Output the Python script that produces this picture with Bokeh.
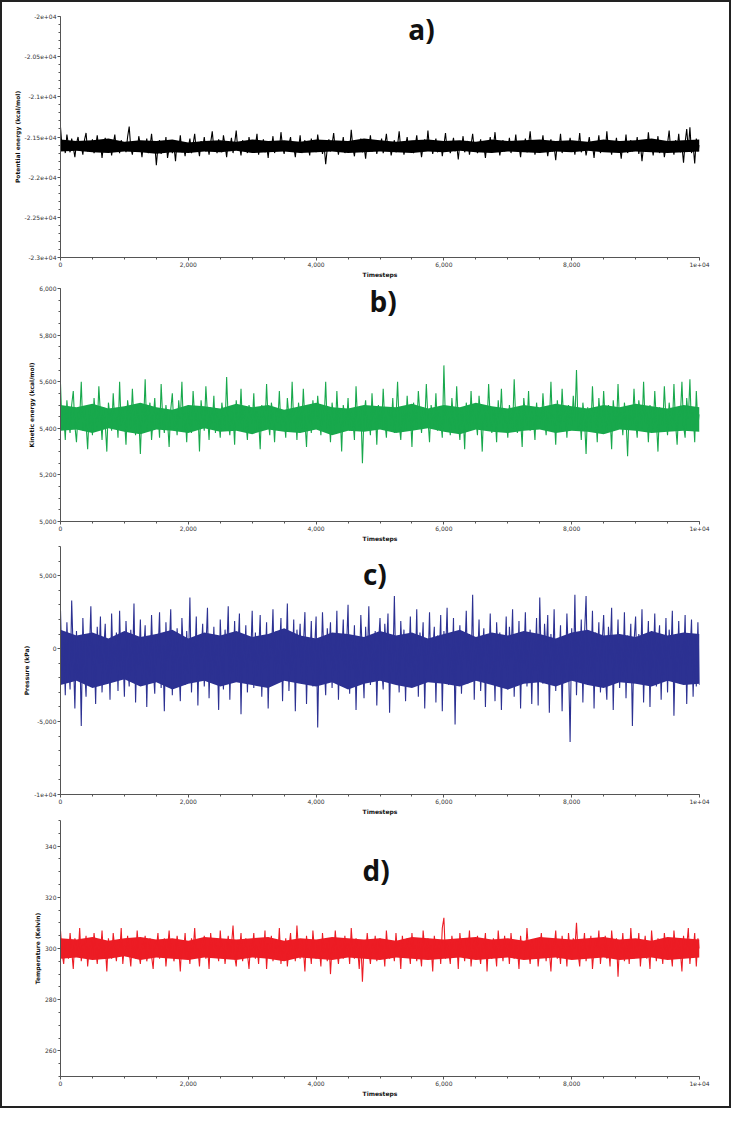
from bokeh.plotting import figure
from bokeh.layouts import column
from bokeh.models import Range1d, FixedTicker, Label
from bokeh.embed import file_html
from bokeh.resources import INLINE

# ---------------- data ----------------
timesteps = list(range(0, 10001, 25))
core_steps = list(range(0, 10001, 250))

potential = [
    -21380, -21640, -21560, -21700, -21470, -21600, -21690, -21520, -21630, -21750, -21580, -21500, -21660, -21610, -21720, -21540, -21450, -21680, -21590, -21640,
    -21530, -21700, -21620, -21480, -21650, -21570, -21760, -21600, -21510, -21680, -21640, -21550, -21730, -21590, -21470, -21660, -21610, -21700, -21540, -21620,
    -21580, -21690, -21500, -21370, -21640, -21720, -21560, -21610, -21680, -21490, -21600, -21750, -21570, -21650, -21520, -21700, -21630, -21460, -21670, -21590,
    -21850, -21620, -21540, -21710, -21600, -21680, -21500, -21760, -21640, -21570, -21700, -21610, -21800, -21550, -21660, -21480, -21690, -21620, -21740, -21580,
    -21630, -21520, -21700, -21590, -21460, -21670, -21610, -21740, -21550, -21640, -21500, -21680, -21600, -21720, -21570, -21430, -21650, -21590, -21700, -21530,
    -21620, -21690, -21480, -21600, -21750, -21560, -21640, -21510, -21700, -21580, -21420, -21660, -21610, -21730, -21540, -21650, -21590, -21700, -21500, -21630,
    -21570, -21680, -21610, -21460, -21720, -21590, -21650, -21530, -21690, -21600, -21760, -21550, -21640, -21490, -21700, -21610, -21580, -21670, -21440, -21620,
    -21710, -21560, -21640, -21590, -21500, -21680, -21620, -21750, -21570, -21650, -21480, -21700, -21600, -21540, -21670, -21610, -21730, -21520, -21640, -21580,
    -21690, -21470, -21620, -21560, -21710, -21600, -21840, -21640, -21530, -21680, -21590, -21450, -21660, -21610, -21720, -21550, -21640, -21500, -21700, -21620,
    -21580, -21670, -21410, -21630, -21740, -21560, -21650, -21600, -21520, -21690, -21610, -21770, -21570, -21640, -21480, -21680, -21620, -21550, -21710, -21590,
    -21640, -21520, -21700, -21600, -21460, -21660, -21580, -21730, -21620, -21540, -21690, -21600, -21430, -21650, -21570, -21720, -21610, -21500, -21680, -21630,
    -21560, -21700, -21620, -21480, -21660, -21590, -21750, -21610, -21530, -21670, -21420, -21640, -21580, -21710, -21600, -21520, -21690, -21630, -21560, -21740,
    -21600, -21450, -21660, -21580, -21700, -21620, -21510, -21680, -21600, -21780, -21570, -21640, -21490, -21690, -21610, -21550, -21720, -21600, -21460, -21650,
    -21590, -21700, -21630, -21530, -21680, -21610, -21760, -21570, -21650, -21500, -21690, -21620, -21440, -21660, -21590, -21730, -21610, -21540, -21680, -21600,
    -21650, -21510, -21700, -21590, -21640, -21470, -21680, -21610, -21750, -21560, -21630, -21520, -21690, -21600, -21430, -21670, -21580, -21720, -21610, -21550,
    -21690, -21620, -21480, -21660, -21590, -21740, -21600, -21530, -21680, -21620, -21790, -21570, -21650, -21460, -21700, -21610, -21560, -21680, -21630, -21510,
    -21660, -21600, -21720, -21550, -21640, -21450, -21690, -21610, -21580, -21730, -21620, -21500, -21670, -21600, -21760, -21560, -21640, -21480, -21700, -21620,
    -21590, -21680, -21430, -21650, -21600, -21720, -21550, -21640, -21510, -21690, -21610, -21770, -21580, -21660, -21470, -21700, -21620, -21540, -21680, -21600,
    -21640, -21500, -21710, -21590, -21800, -21620, -21550, -21680, -21440, -21650, -21600, -21730, -21570, -21640, -21490, -21700, -21610, -21560, -21750, -21620,
    -21580, -21420, -21670, -21600, -21720, -21540, -21650, -21460, -21690, -21610, -21820, -21570, -21400, -21660, -21380, -21700, -21600, -21830, -21520, -21680,
    -21600,
]
potential_core_hi = [
    -21530, -21550, -21540, -21520, -21560, -21540, -21550, -21530, -21570, -21550,
    -21540, -21560, -21530, -21550, -21540, -21560, -21530, -21540, -21550, -21520,
    -21540, -21560, -21540, -21530, -21550, -21540, -21560, -21530, -21550, -21540,
    -21530, -21550, -21540, -21560, -21530, -21550, -21540, -21520, -21550, -21540,
    -21530,
]
potential_core_lo = [
    -21680, -21670, -21690, -21700, -21680, -21690, -21710, -21690, -21700, -21680,
    -21690, -21670, -21700, -21690, -21680, -21700, -21690, -21680, -21700, -21690,
    -21680, -21690, -21700, -21680, -21690, -21670, -21690, -21700, -21680, -21690,
    -21700, -21680, -21690, -21670, -21690, -21700, -21680, -21690, -21700, -21690,
    -21680,
]

kinetic = [
    5590, 5400, 5460, 5350, 5520, 5430, 5380, 5500, 5560, 5410, 5340, 5470, 5440, 5600, 5390, 5490, 5420, 5310, 5480, 5450,
    5370, 5530, 5440, 5400, 5580, 5460, 5350, 5490, 5420, 5300, 5510, 5450, 5390, 5550, 5430, 5470, 5360, 5600, 5410, 5480,
    5440, 5330, 5520, 5460, 5400, 5570, 5430, 5370, 5500, 5450, 5290, 5480, 5420, 5610, 5390, 5460, 5510, 5350, 5440, 5530,
    5410, 5470, 5360, 5590, 5440, 5380, 5500, 5430, 5320, 5480, 5550, 5400, 5460, 5370, 5520, 5440, 5600, 5390, 5470, 5340,
    5500, 5430, 5380, 5560, 5450, 5410, 5480, 5300, 5520, 5440, 5390, 5580, 5460, 5350, 5490, 5420, 5540, 5380, 5470, 5440,
    5360, 5510, 5450, 5400, 5620, 5430, 5370, 5490, 5460, 5330, 5520, 5440, 5410, 5570, 5390, 5480, 5430, 5350, 5500, 5460,
    5420, 5550, 5380, 5470, 5440, 5310, 5500, 5450, 5400, 5590, 5430, 5370, 5510, 5460, 5340, 5480, 5420, 5560, 5400, 5470,
    5440, 5360, 5530, 5450, 5390, 5600, 5420, 5480, 5350, 5510, 5440, 5400, 5570, 5430, 5320, 5490, 5460, 5380, 5520, 5440,
    5410, 5540, 5450, 5370, 5490, 5430, 5600, 5400, 5470, 5340, 5510, 5440, 5380, 5560, 5420, 5480, 5300, 5500, 5450, 5410,
    5530, 5390, 5470, 5440, 5350, 5580, 5430, 5410, 5490, 5250, 5460, 5520, 5400, 5440, 5370, 5550, 5420, 5480, 5330, 5500,
    5450, 5400, 5570, 5430, 5360, 5490, 5460, 5410, 5530, 5380, 5440, 5600, 5420, 5350, 5480, 5450, 5390, 5540, 5430, 5470,
    5320, 5510, 5440, 5400, 5560, 5460, 5380, 5490, 5420, 5590, 5440, 5340, 5500, 5450, 5410, 5550, 5390, 5470, 5430, 5360,
    5670, 5420, 5480, 5450, 5370, 5530, 5440, 5400, 5580, 5430, 5350, 5490, 5460, 5310, 5510, 5440, 5390, 5560, 5420, 5480,
    5440, 5370, 5540, 5450, 5300, 5500, 5430, 5410, 5590, 5440, 5380, 5480, 5460, 5340, 5520, 5420, 5570, 5400, 5470, 5440,
    5360, 5500, 5450, 5400, 5610, 5430, 5380, 5490, 5440, 5320, 5530, 5460, 5410, 5560, 5390, 5470, 5440, 5350, 5510, 5430,
    5470, 5400, 5550, 5440, 5370, 5490, 5420, 5600, 5410, 5460, 5330, 5520, 5440, 5390, 5570, 5430, 5480, 5360, 5500, 5450,
    5410, 5540, 5430, 5650, 5400, 5470, 5350, 5510, 5440, 5290, 5490, 5450, 5390, 5580, 5420, 5470, 5340, 5530, 5440, 5400,
    5560, 5430, 5380, 5500, 5450, 5310, 5520, 5440, 5400, 5590, 5420, 5470, 5370, 5510, 5440, 5280, 5490, 5450, 5410, 5570,
    5430, 5360, 5520, 5460, 5400, 5600, 5420, 5470, 5340, 5500, 5440, 5390, 5560, 5430, 5300, 5490, 5450, 5410, 5580, 5440,
    5370, 5510, 5440, 5400, 5590, 5420, 5330, 5480, 5450, 5600, 5410, 5360, 5530, 5440, 5610, 5390, 5470, 5340, 5560, 5420,
    5460,
]
kinetic_core_hi = [
    5500, 5490, 5505, 5485, 5495, 5510, 5490, 5480, 5500, 5495,
    5485, 5505, 5490, 5500, 5480, 5495, 5510, 5490, 5485, 5500,
    5495, 5490, 5505, 5485, 5500, 5490, 5510, 5495, 5485, 5500,
    5490, 5505, 5495, 5485, 5500, 5490, 5505, 5495, 5485, 5500,
    5490,
]
kinetic_core_lo = [
    5390, 5395, 5380, 5400, 5385, 5375, 5395, 5390, 5380, 5400,
    5385, 5390, 5375, 5395, 5385, 5380, 5395, 5370, 5390, 5385,
    5395, 5380, 5390, 5400, 5385, 5375, 5395, 5385, 5380, 5390,
    5395, 5380, 5390, 5385, 5375, 5395, 5390, 5380, 5385, 5390,
    5385,
]

pressure = [
    2600, -1500, 400, -3200, 1800, -900, -2800, 3300, -400, -4100, 1200, -2000, 700, -5300, 2100, -1200, -3300, 900, -600, 2900,
    -2500, 300, -3800, 1500, -1000, 2200, -3000, -200, 1700, -2200, 600, -3500, 2400, -1400, -400, 1100, -2900, 2600, -1800, 0,
    -3300, 1900, -800, -2600, 1300, -1600, 3100, -3700, 500, -1100, 2000, -2400, -300, 1600, -4000, 800, -1900, 2300, -1300, -3100,
    1000, -600, 2500, -2700, 200, -4300, 1800, -1500, -200, 2700, -3200, 700, -2100, 1400, -900, -3600, 2100, -400, -2500, 1200,
    -1700, 3500, -3000, 400, -1200, 2200, -3900, 900, -600, 1700, -2600, -100, 2800, -3400, 600, -1800, 1500, -2300, 300, -4200,
    2000, -1000, -2800, 1300, -500, 2900, -3500, 700, -1600, 1900, -2200, -300, 2400, -4500, 1000, -1300, 1600, -3000, 200, -800,
    2600, -2700, 1100, -1900, -400, 2300, -3300, 800, -1400, 1800, -4100, 500, -700, 2700, -2400, 1200, -1700, -300, 2100, -3600,
    900, -1100, 3100, -2900, 400, -1500, 2000, -4300, 1300, -600, 1700, -2300, 100, 2500, -3800, 700, -1200, 1900, -2600, -200,
    2200, -5400, 600, -1800, 2500, -900, -3200, 1400, -400, 1800, -2700, 300, -1500, 2600, -3500, 1000, -800, 2000, -2200, -100,
    3000, -3100, 800, -1400, 1600, -4200, 400, -2000, 2300, -600, -3400, 1500, -1100, 2900, -2500, 500, -1700, 1200, -3900, 200,
    2100, -1300, -2800, 1700, -300, 2400, -4400, 900, -1600, 3600, -2200, 0, -3000, 1900, -700, 1300, -3600, 600, -1200, 2200,
    -2600, 400, -1900, 2700, -3300, 1100, -500, 1800, -4100, 700, -1400, 2500, -2100, -200, 1500, -3700, 900, -1000, 2300, -4300,
    1200, -600, 2800, -2500, 300, -1800, 2100, -5200, 800, -1100, 1600, -3100, 500, -700, 2600, -2400, 1000, -1500, 3700, -3500,
    700, -1200, 2000, -2900, -300, 1400, -4000, 900, -1700, 2400, -2300, 200, -3600, 1800, -800, 1100, -4200, 600, -1300, 2200,
    -2800, 1500, -600, 2700, -3300, 400, -1900, 1900, -4100, 800, -1000, 2500, -2600, 0, 1300, -3800, 700, -1500, 2100, -3900,
    3500, -1300, -2400, 1700, -500, 2300, -4400, 1000, -1800, 2700, -2900, 300, -1100, 1600, -4300, 800, -2000, 2400, -700, -6400,
    1400, -2100, 3700, -3200, 600, -1400, 2000, -3700, 900, 3600, -2500, 400, -1600, 2600, -4100, 1100, -900, 1800, -3000, 200,
    2300, -1700, -3500, 1500, -400, 2800, -4200, 700, -1200, 2000, -2700, 100, -1900, 2500, -3400, 900, -600, 1700, -5300, 400,
    2200, -2300, 1000, -1500, 2700, -3700, 500, -800, 1900, -4000, 1200, -1300, 2400, -2600, -100, 1600, -3500, 800, -1800, 2100,
    -3000, 1300, -700, 2600, -4600, 600, -1600, 1900, -2400, 300, -1100, 2300, -3800, 1000, -500, 2000, -3300, 700, -2600, 1800,
    -2500,
]
pressure_core_hi = [
    1300, 900, 1100, 700, 1200, 800, 1000, 1300, 700, 1100,
    900, 1200, 800, 1000, 1400, 900, 700, 1100, 1000, 800,
    1200, 900, 1100, 700, 1000, 1300, 800, 1100, 900, 1200,
    1000, 700, 1100, 1300, 900, 1000, 800, 1200, 900, 1100,
    1000,
]
pressure_core_lo = [
    -2500, -2200, -2700, -2400, -2100, -2600, -2300, -2800, -2400, -2200,
    -2600, -2300, -2500, -2700, -2200, -2400, -2600, -2300, -2800, -2400,
    -2200, -2500, -2700, -2300, -2400, -2600, -2200, -2500, -2800, -2400,
    -2300, -2600, -2200, -2500, -2700, -2300, -2400, -2600, -2200, -2500,
    -2400,
]

temperature = [
    307, 298, 294, 303, 300, 296, 306, 299, 292, 304, 301, 297, 308, 295, 302, 299, 305, 293, 300, 303,
    297, 306, 300, 294, 302, 298, 307, 296, 301, 291, 304, 299, 296, 306, 300, 295, 303, 298, 308, 294,
    301, 297, 305, 299, 293, 303, 300, 296, 307, 298, 294, 302, 300, 305, 295, 299, 304, 297, 292, 303,
    300, 306, 296, 301, 298, 304, 293, 300, 307, 297, 302, 295, 299, 305, 300, 291, 303, 298, 306, 296,
    301, 294, 304, 299, 308, 297, 300, 293, 303, 298, 305, 296, 301, 292, 306, 299, 297, 304, 300, 295,
    307, 298, 302, 294, 300, 305, 296, 301, 309, 297, 293, 303, 299, 306, 295, 300, 304, 298, 292, 302,
    299, 306, 296, 301, 294, 304, 300, 297, 307, 292, 302, 298, 305, 295, 300, 303, 297, 308, 294, 301,
    298, 304, 293, 300, 306, 297, 302, 295, 309, 299, 296, 303, 300, 291, 305, 298, 301, 294, 307, 299,
    296, 303, 300, 293, 306, 298, 302, 295, 304, 290, 301, 297, 307, 299, 294, 303, 300, 296, 305, 298,
    302, 294, 308, 299, 296, 304, 300, 292, 303, 287, 301, 297, 306, 299, 294, 302, 298, 305, 295, 300,
    304, 297, 301, 293, 307, 299, 296, 303, 300, 295, 306, 298, 302, 292, 305, 299, 297, 304, 300, 294,
    306, 298, 301, 295, 303, 299, 293, 307, 300, 297, 304, 296, 301, 291, 305, 299, 298, 303, 294, 308,
    312, 296, 302, 299, 294, 305, 300, 297, 303, 292, 306, 299, 301, 295, 304, 298, 307, 293, 300, 303,
    297, 305, 299, 294, 302, 300, 306, 291, 303, 298, 296, 304, 300, 293, 307, 299, 301, 295, 305, 298,
    302, 294, 306, 299, 296, 303, 300, 292, 305, 298, 301, 296, 308, 299, 294, 303, 300, 297, 304, 293,
    300, 306, 297, 302, 295, 304, 299, 291, 303, 300, 307, 296, 301, 294, 305, 298, 302, 293, 306, 299,
    296, 304, 300, 310, 298, 293, 303, 299, 306, 295, 301, 297, 305, 292, 300, 303, 298, 307, 294, 302,
    299, 305, 296, 301, 293, 307, 300, 297, 304, 289, 302, 298, 306, 295, 300, 303, 294, 308, 299, 296,
    303, 298, 306, 293, 301, 299, 305, 296, 300, 292, 307, 299, 302, 295, 304, 298, 301, 294, 306, 300,
    297, 304, 299, 293, 307, 300, 296, 303, 299, 291, 305, 298, 301, 308, 294, 302, 299, 306, 293, 304,
    300,
]
temperature_core_hi = [
    304, 303.5, 304.5, 303, 304, 304.5, 303.5, 304, 303, 304.5,
    304, 303.5, 304, 304.5, 303, 304, 303.5, 304.5, 304, 303.5,
    304, 303, 304.5, 304, 303.5, 304, 304.5, 303.5, 304, 303,
    304.5, 304, 303.5, 304, 304.5, 303.5, 304, 303, 304.5, 304,
    303.5,
]
temperature_core_lo = [
    296, 296.5, 295.5, 296, 297, 295.5, 296.5, 296, 295.5, 296.5,
    296, 295.5, 296.5, 296, 295, 296.5, 296, 295.5, 296.5, 296,
    295.5, 296.5, 296, 295.5, 296, 296.5, 295.5, 296, 296.5, 295.5,
    296, 296.5, 295.5, 296, 296.5, 295.5, 296, 296.5, 295.5, 296,
    296.5,
]

x_ticks = [0, 2000, 4000, 6000, 8000, 10000]
x_tick_labels = ["0", "2,000", "4,000", "6,000", "8,000", "1e+04"]
x_minor = [v * 500 for v in range(21)]

pot_ticks = [-23000, -22500, -22000, -21500, -21000, -20500, -20000]
pot_labels = ["-2.3e+04", "-2.25e+04", "-2.2e+04", "-2.15e+04", "-2.1e+04", "-2.05e+04", "-2e+04"]
kin_ticks = [5000, 5200, 5400, 5600, 5800, 6000]
kin_labels = ["5,000", "5,200", "5,400", "5,600", "5,800", "6,000"]
pre_ticks = [-10000, -5000, 0, 5000]
pre_labels = ["-1e+04", "-5,000", "0", "5,000"]
tem_ticks = [260, 280, 300, 320, 340]
tem_labels = ["260", "280", "300", "320", "340"]

FONT = "DejaVu Sans"


def make_panel(height, left, top, bottom, y_lo, y_hi, y_ticks, y_labels, y_minor,
               ylabel, series, core_hi, core_lo, color, tag, tag_x, tag_y):
    p = figure(width=727, height=height, output_backend="svg", toolbar_location=None,
               x_range=Range1d(0, 10000), y_range=Range1d(y_lo, y_hi),
               min_border_left=left, min_border_right=30,
               min_border_top=top, min_border_bottom=bottom)
    p.outline_line_color = None
    p.xgrid.visible = False
    p.ygrid.visible = False
    p.background_fill_color = "white"
    p.border_fill_color = "white"

    p.varea(x=core_steps, y1=core_lo, y2=core_hi, fill_color=color)
    p.line(timesteps, series, line_color=color, line_width=1.1)

    p.xaxis.ticker = FixedTicker(ticks=x_ticks, minor_ticks=x_minor)
    p.xaxis.major_label_overrides = dict(zip(x_ticks, x_tick_labels))
    p.yaxis.ticker = FixedTicker(ticks=y_ticks, minor_ticks=y_minor)
    p.yaxis.major_label_overrides = dict(zip(y_ticks, y_labels))
    p.xaxis.axis_label = "Timesteps"
    p.yaxis.axis_label = ylabel
    for ax in (p.xaxis[0], p.yaxis[0]):
        ax.axis_line_color = "#555555"
        ax.major_tick_line_color = "#555555"
        ax.minor_tick_line_color = "#555555"
        ax.major_tick_in = 0
        ax.major_tick_out = 3
        ax.minor_tick_in = 0
        ax.minor_tick_out = 2
        ax.major_label_text_font = FONT
        ax.major_label_text_font_size = "6px"
        ax.major_label_text_color = "#333333"
        ax.major_label_standoff = 1
        ax.axis_label_text_font = FONT
        ax.axis_label_text_font_size = "6px"
        ax.axis_label_text_font_style = "bold"
        ax.axis_label_text_color = "#111111"
        ax.axis_label_standoff = 1

    p.add_layout(Label(x=tag_x, y=tag_y, text=tag, text_font="Open Sans",
                       text_font_size="28px", text_font_style="bold",
                       text_align="center", text_baseline="middle",
                       text_color="#111111"))
    return p


pa = make_panel(278, 58, 14, 18, -23000, -20000, pot_ticks, pot_labels,
                [-23000 + 100 * i for i in range(31)],
                "Potential energy (kcal/mol)", potential, potential_core_hi,
                potential_core_lo, "#000000", "a)", 5650, -20150)
pb = make_panel(264, 46, 8, 17, 5000, 6000, kin_ticks, kin_labels,
                [5000 + 50 * i for i in range(21)],
                "Kinetic energy (kcal/mol)", kinetic, kinetic_core_hi,
                kinetic_core_lo, "#18a84c", "b)", 5050, 5945)
pc = make_panel(273, 49, 2, 19, -10000, 7000, pre_ticks, pre_labels,
                [-10000 + 1000 * i for i in range(18)],
                "Pressure (kPa)", pressure, pressure_core_hi,
                pressure_core_lo, "#2c3192", "c)", 4920, 5130)
pd = make_panel(289, 41, 3, 30, 250, 350, tem_ticks, tem_labels,
                [250 + 5 * i for i in range(21)],
                "Temperature (Kelvin)", temperature, temperature_core_hi,
                temperature_core_lo, "#ec1c24", "d)", 4940, 330.8)

layout = column(pa, pb, pc, pd, spacing=0,
                styles={"border": "2px solid #222222"})

open("out.html", "w").write(file_html(layout, INLINE))
